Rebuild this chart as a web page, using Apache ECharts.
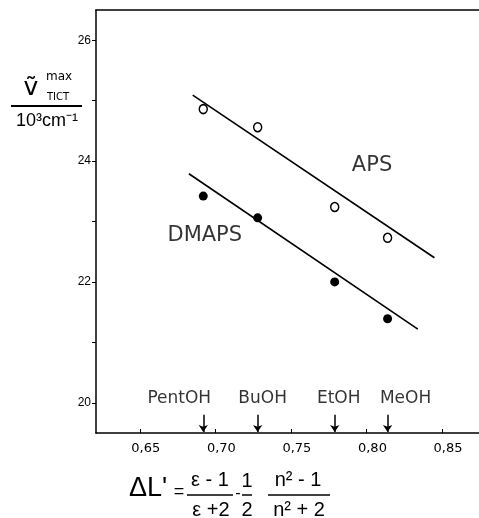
<!DOCTYPE html>
<html>
<head>
<meta charset="utf-8">
<script src="https://cdn.jsdelivr.net/npm/echarts@6/dist/echarts.min.js"></script>
<style>
  html, body { margin: 0; padding: 0; background: #fff; }
  #chart { width: 479px; height: 518px; }
</style>
</head>
<body>
<div id="chart"></div>
<script>
// solvents and their ΔL' values (arrows on the x axis)
var solvents = ["PentOH", "BuOH", "EtOH", "MeOH"];
var deltaL = [0.692, 0.728, 0.779, 0.814];
// TICT emission maxima in 10^3 cm-1
var apsValues = [24.86, 24.56, 23.24, 22.73];
var dmapsValues = [23.42, 23.06, 22.00, 21.39];
// regression lines, [x, y] end points
var apsFit = [[0.685, 25.09], [0.845, 22.40]];
var dmapsFit = [[0.6825, 23.79], [0.834, 21.22]];
// axis ticks
var xTicks = [0.65, 0.70, 0.75, 0.80, 0.85];
var yTicks = [20, 21, 22, 23, 24, 25, 26];
var yLabels = [20, 22, 24, 26];
// where the compound names sit, in data units
var compoundNames = ["APS", "DMAPS"];
var compoundLabelAt = [[0.8037, 23.92], [0.693, 22.76]];

// layout bits (pixels)
var solventShift = [-24, 5, 4, 18];
var FONT = "DejaVu Sans";

var myChart = echarts.init(document.getElementById("chart"));

function pair(xs, ys) {
  var out = [];
  for (var i = 0; i < xs.length; i++) out.push([xs[i], ys[i]]);
  return out;
}

var solventData = [];
var arrowData = [];
solvents.forEach(function (name, i) {
  solventData.push({
    value: [deltaL[i], 20.07],
    name: name,
    label: { offset: [solventShift[i], 0] }
  });
  arrowData.push({ coords: [[deltaL[i], 19.80], [deltaL[i], 19.515]] });
});

var compoundData = compoundNames.map(function (n, i) {
  return { value: compoundLabelAt[i], name: n };
});

function txt(text, x, y, size, align, family) {
  return {
    type: "text", x: x, y: y, silent: true,
    style: {
      text: text, fontSize: size, fontFamily: family || "Liberation Sans",
      fill: "#000", align: align || "center", verticalAlign: "middle"
    }
  };
}
function bar(x1, x2, y, w) {
  return {
    type: "line", silent: true,
    shape: { x1: x1, y1: y, x2: x2, y2: y },
    style: { stroke: "#000", lineWidth: w || 1.5 }
  };
}

var option = {
  animation: false,
  backgroundColor: "#fff",
  grid: { left: 96, right: 0, top: 10, bottom: 85 },
  xAxis: [
    {
      type: "value",
      min: 0.621,
      max: 0.8745,
      axisLine: { show: true, onZero: false, lineStyle: { color: "#000", width: 1.5 } },
      axisTick: { show: true, inside: true, length: 4, customValues: xTicks, lineStyle: { color: "#000" } },
      axisLabel: {
        customValues: xTicks,
        color: "#000",
        fontFamily: FONT,
        fontSize: 13,
        margin: 9,
        padding: [0, 0, 0, 12],
        formatter: function (v) { return v.toFixed(2).replace(".", ","); }
      },
      splitLine: { show: false }
    },
    {
      type: "value",
      position: "top",
      min: 0.621,
      max: 0.8745,
      axisLine: { show: true, onZero: false, lineStyle: { color: "#000", width: 1.5 } },
      axisTick: { show: false },
      axisLabel: { show: false },
      splitLine: { show: false }
    }
  ],
  yAxis: {
    type: "value",
    min: 19.5,
    max: 26.5,
    axisLine: { show: true, onZero: false, lineStyle: { color: "#000", width: 1.5 } },
    axisTick: { show: true, length: 4, customValues: yTicks, lineStyle: { color: "#000" } },
    axisLabel: {
      customValues: yLabels,
      color: "#000",
      fontFamily: "Liberation Sans",
      fontSize: 12,
      margin: 5
    },
    splitLine: { show: false }
  },
  series: [
    {
      name: "APS fit",
      type: "line",
      data: apsFit,
      symbol: "none",
      silent: true,
      lineStyle: { color: "#000", width: 1.6 }
    },
    {
      name: "DMAPS fit",
      type: "line",
      data: dmapsFit,
      symbol: "none",
      silent: true,
      lineStyle: { color: "#000", width: 1.6 }
    },
    {
      name: "APS",
      type: "scatter",
      data: pair(deltaL, apsValues),
      symbol: "circle",
      symbolSize: [8, 9],
      itemStyle: { color: "#fff", borderColor: "#000", borderWidth: 1.5, opacity: 1 }
    },
    {
      name: "DMAPS",
      type: "scatter",
      data: pair(deltaL, dmapsValues),
      symbol: "circle",
      symbolSize: 9,
      itemStyle: { color: "#000", opacity: 1 }
    },
    {
      name: "arrows",
      type: "lines",
      coordinateSystem: "cartesian2d",
      data: arrowData,
      symbol: ["none", "arrow"],
      symbolSize: 7,
      silent: true,
      lineStyle: { color: "#000", width: 1.5, opacity: 1 }
    },
    {
      name: "solvents",
      type: "scatter",
      data: solventData,
      symbolSize: 0,
      silent: true,
      label: {
        show: true,
        position: "inside",
        formatter: "{b}",
        color: "#000",
        fontFamily: FONT,
        fontSize: 17
      }
    },
    {
      name: "compounds",
      type: "scatter",
      data: compoundData,
      symbolSize: 0,
      silent: true,
      label: {
        show: true,
        position: "inside",
        formatter: "{b}",
        color: "#000",
        fontFamily: FONT,
        fontSize: 21
      }
    }
  ],
  graphic: [
    // y axis name as a fraction
    txt("ṽ", 31, 88, 25, "center", FONT),
    txt("max", 46, 77, 12, "left", FONT),
    txt("TICT", 47, 97, 10, "left", FONT),
    bar(11, 82, 106, 2),
    txt("10³cm⁻¹", 16, 121, 18, "left"),
    // x axis name: ΔL' formula
    txt("ΔL'", 129, 489, 27, "left"),
    txt("=", 179, 492, 18),
    txt("ε - 1", 210, 480, 20),
    bar(187, 233, 495),
    txt("ε +2", 211, 510, 20),
    txt("-", 238, 494, 16),
    txt("1", 247, 481, 20),
    bar(242, 252, 495),
    txt("2", 247, 510, 20),
    txt("n² - 1", 298, 480, 20),
    bar(268, 330, 495),
    txt("n² + 2", 299, 510, 20)
  ]
};

myChart.setOption(option);
</script>
</body>
</html>
